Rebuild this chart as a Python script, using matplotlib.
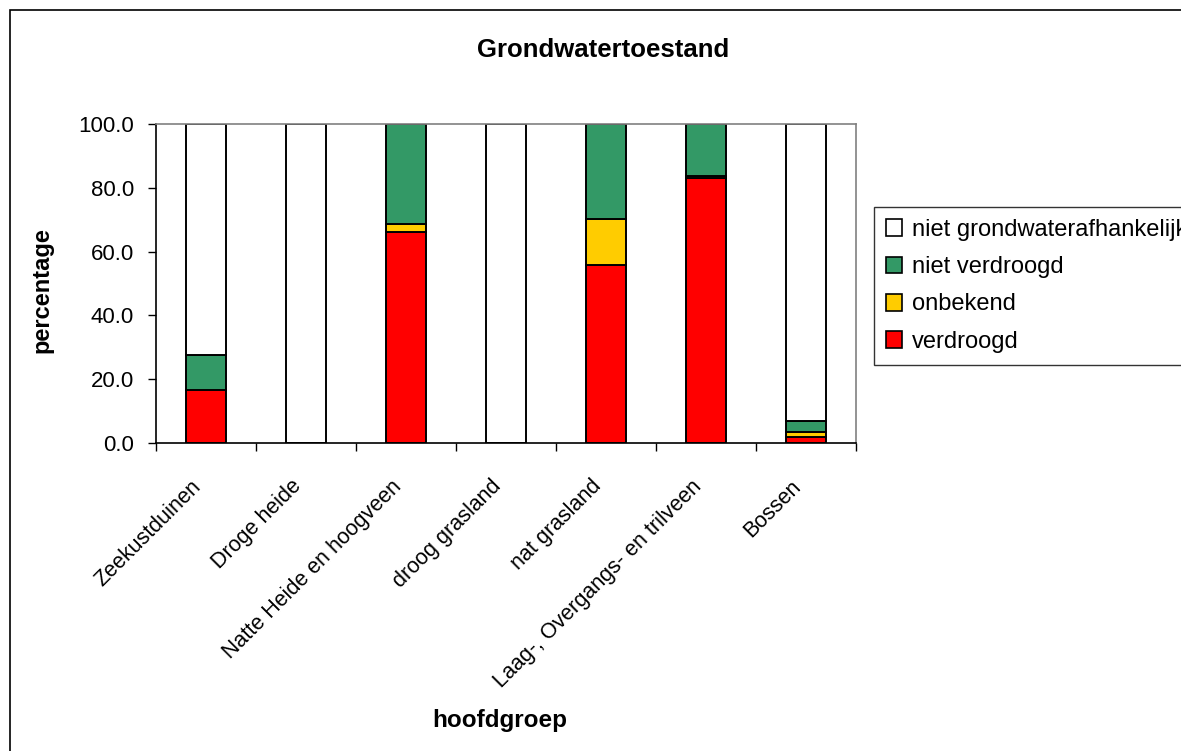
import numpy as np
import matplotlib.pyplot as plt
import matplotlib.transforms as mtransforms
from matplotlib.patches import Rectangle, Patch

plt.rcParams['font.family'] = ['Liberation Sans', 'DejaVu Sans']

# hoofdgroepen en aandelen per grondwatertoestand (percentage)
categories = ['Zeekustduinen', 'Droge heide', 'Natte Heide en hoogveen', 'droog grasland',
              'nat grasland', 'Laag-, Overgangs- en trilveen', 'Bossen']
verdroogd = [16.7, 0.0, 66.0, 0.0, 55.7, 83.0, 2.0]
onbekend = [0.0, 0.0, 2.7, 0.0, 14.5, 0.7, 1.5]
niet_verdroogd = [11.0, 0.0, 31.3, 0.0, 29.8, 16.3, 3.5]
niet_afhankelijk = [72.3, 100.0, 0.0, 100.0, 0.0, 0.0, 93.0]

series = [
    ('verdroogd', verdroogd, '#FF0000'),
    ('onbekend', onbekend, '#FFCC00'),
    ('niet verdroogd', niet_verdroogd, '#339966'),
    ('niet grondwaterafhankelijk', niet_afhankelijk, '#FFFFFF'),
]

fig = plt.figure(figsize=(11.81, 7.51), dpi=100)
ax = fig.add_axes([156 / 1181, 1 - 443 / 751, 700 / 1181, 319 / 751])

x = np.arange(len(categories))
bottom = np.zeros(len(categories))
for name, vals, col in series:
    vals = np.array(vals)
    ax.bar(x, vals, width=0.4, bottom=bottom, color=col, edgecolor='black', linewidth=1.4)
    bottom += vals

ax.set_xlim(-0.5, len(categories) - 0.5)
ax.set_ylim(0, 100)
ax.set_yticks(np.arange(0, 101, 20))
ax.set_yticklabels(['%.1f' % v for v in np.arange(0, 101, 20)], fontsize=16)
ax.tick_params(axis='y', direction='out', length=6, width=1, pad=10)

ax.set_xticks(x)
ax.set_xticklabels(categories, rotation=45, ha='right', va='center', rotation_mode='anchor', fontsize=15.5)
ax.tick_params(axis='x', which='major', length=0, pad=29)
ax.set_xticks(np.arange(-0.5, len(categories)), minor=True)
ax.tick_params(axis='x', which='minor', direction='out', length=6, width=1)
# labels iets naar links schuiven
shift = mtransforms.ScaledTranslation(-8 / 100, 0, fig.dpi_scale_trans)
for lbl in ax.get_xticklabels():
    lbl.set_transform(lbl.get_transform() + shift)

for side in ['top', 'right']:
    ax.spines[side].set_color('#808080')
    ax.spines[side].set_linewidth(1.2)
for side in ['left', 'bottom']:
    ax.spines[side].set_color('black')
    ax.spines[side].set_linewidth(1.2)

fig.text(603 / 1181, 1 - 50 / 751, 'Grondwatertoestand', ha='center', va='center',
         fontsize=18.5, fontweight='bold')
fig.text(500 / 1181, 1 - 720 / 751, 'hoofdgroep', ha='center', va='center',
         fontsize=17.5, fontweight='bold')
fig.text(42 / 1181, 1 - 290 / 751, 'percentage', ha='center', va='center',
         rotation=90, fontsize=17, fontweight='bold')

# legenda in omgekeerde stapelvolgorde
handles = [Patch(facecolor=col, edgecolor='black', linewidth=1.2, label=name)
           for name, vals, col in reversed(series)]
fig.legend(handles=handles, loc='upper left', bbox_to_anchor=(874 / 1181, 1 - 207 / 751),
           fontsize=17, frameon=True, fancybox=False, edgecolor='black',
           handlelength=0.7, handleheight=0.7, handletextpad=0.4,
           labelspacing=0.65, borderpad=0.5, borderaxespad=0)

# kader rond de hele grafiek
fig.patches.append(Rectangle((10 / 1181, -0.1), 1.2, 1.1 - 10 / 751, transform=fig.transFigure,
                             fill=False, edgecolor='black', linewidth=1.2))

fig.savefig('out.png', dpi=100)
